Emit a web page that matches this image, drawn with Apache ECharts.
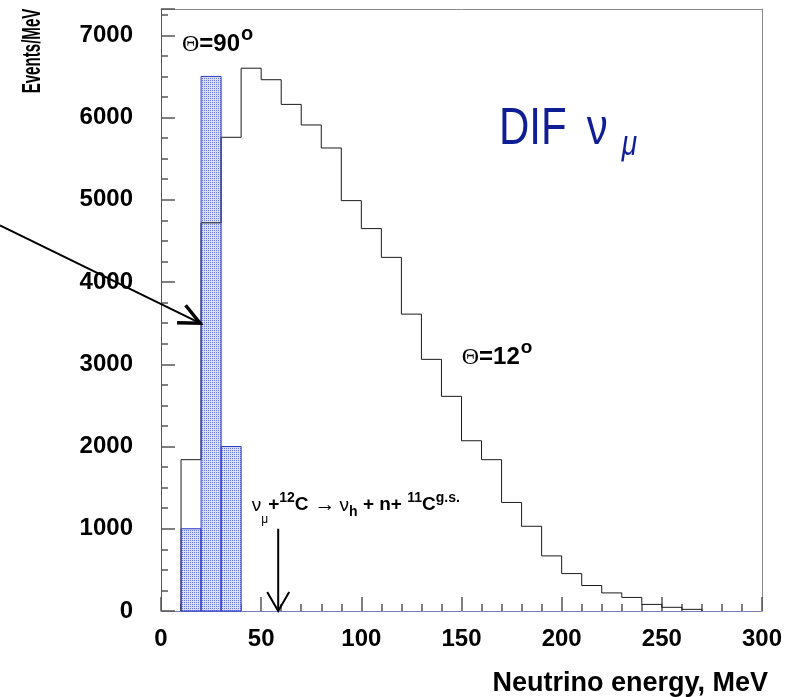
<!DOCTYPE html>
<html><head><meta charset="utf-8">
<script src="https://cdn.jsdelivr.net/npm/echarts@6/dist/echarts.min.js"></script>
<style>html,body{margin:0;padding:0;background:#fff}#c{width:789px;height:697px}</style>
</head><body><div id="c"></div>
<script>
// ---------- data ----------
const binWidth = 10; // MeV
const theta12BinLow = [10,20,30,40,50,60,70,80,90,100,110,120,130,140,150,160,170,180,190,200,210,220,230,240,250,260];
const theta12Values = [1840,4720,5760,6600,6460,6160,5910,5630,4990,4650,4300,3610,3060,2610,2070,1840,1320,1030,670,455,310,220,165,80,45,20];
const theta90BinLow = [10,20,30];
const theta90Values = [1000,6500,2000];
const xRange = [0, 300];
const xTickStep = 50, xMinorPerMajor = 5;
const yRange = [0, 7320];
const yTickStep = 1000, yMinorPerMajor = 4;
const thresholdEnergy = 58.5;   // MeV, arrow of the reaction threshold
const thresholdArrowTop = 1000;

// ---------- styles ----------
const SANS = '"Liberation Sans", Arial, Helvetica, sans-serif';
const NAVY = '#101e96';
const TICK = {color: '#555', width: 1.5};

// fill pattern (dotted light blue)
const pc = document.createElement('canvas');
pc.width = 2; pc.height = 2;
const pctx = pc.getContext('2d');
pctx.fillStyle = '#dadef7'; pctx.fillRect(0,0,2,2);
pctx.fillStyle = '#6a78dc'; pctx.fillRect(0,0,1,1);
const bluePattern = {image: pc, repeat: 'repeat'};

// step-line data for the Θ=12° histogram
const stepData = [[theta12BinLow[0], 0]];
theta12BinLow.forEach((x, i) => stepData.push([x, theta12Values[i]]));
stepData.push([theta12BinLow[theta12BinLow.length - 1] + binWidth, 0]);

const barData = theta90BinLow.map((x, i) => [x, x + binWidth, theta90Values[i]]);

function rectItem(api, styleObj) {
  const p0 = api.coord([api.value(0), api.value(2)]);
  const p1 = api.coord([api.value(1), 0]);
  return {type: 'rect', shape: {x: p0[0], y: p0[1], width: p1[0] - p0[0], height: p1[1] - p0[1]}, style: styleObj};
}

const noLabel = {show: false};
const chart = echarts.init(document.getElementById('c'), null, {renderer: 'canvas'});
const option = {
  animation: false,
  backgroundColor: '#fff',
  grid: {left: 161, right: 27, top: 9, bottom: 86, show: false},
  xAxis: [{
    type: 'value', min: xRange[0], max: xRange[1], interval: xTickStep, position: 'bottom',
    axisLine: {show: true, onZero: false, lineStyle: {color: '#7a7fb0', width: 1}},
    axisTick: {show: true, inside: true, length: 14, lineStyle: TICK},
    minorTick: {show: true, splitNumber: xMinorPerMajor, length: 7, lineStyle: TICK},
    axisLabel: {margin: 16, fontSize: 24, fontWeight: 'bold', color: '#000', fontFamily: SANS},
    splitLine: {show: false}, minorSplitLine: {show: false}
  }, {
    type: 'value', min: xRange[0], max: xRange[1], position: 'top',
    axisLine: {show: true, onZero: false, lineStyle: {color: '#8a8a8a', width: 1}},
    axisTick: {show: false}, axisLabel: noLabel, splitLine: {show: false}
  }],
  yAxis: [{
    // minor ticks + labels
    type: 'value', min: yRange[0], max: yRange[1], interval: yTickStep / yMinorPerMajor, position: 'left',
    axisLine: {show: true, onZero: false, lineStyle: {color: '#555', width: 1}},
    axisTick: {show: true, inside: true, length: 7, lineStyle: TICK},
    axisLabel: {margin: 28, fontSize: 24, fontWeight: 'bold', color: '#000', fontFamily: SANS, showMaxLabel: false,
      formatter: v => (Math.abs(v % yTickStep) < 1e-9 ? String(v) : '')},
    splitLine: {show: false}
  }, {
    // major ticks
    type: 'value', min: yRange[0], max: yRange[1], interval: yTickStep, position: 'left',
    axisLine: {show: false, onZero: false},
    axisTick: {show: true, inside: true, length: 14, lineStyle: TICK},
    axisLabel: noLabel, splitLine: {show: false}
  }, {
    // right frame
    type: 'value', min: yRange[0], max: yRange[1], position: 'right',
    axisLine: {show: true, onZero: false, lineStyle: {color: '#8a8a8a', width: 1}},
    axisTick: {show: false}, axisLabel: noLabel, splitLine: {show: false}
  }],
  series: [
    {type: 'custom', z: 2, silent: true, data: barData, encode: {x: [0, 1], y: 2},
     renderItem: (p, api) => rectItem(api, {fill: bluePattern, stroke: null})},
    {type: 'line', z: 3, silent: true, step: 'end', data: stepData, showSymbol: false, symbol: 'none',
     lineStyle: {color: '#1a1a1a', width: 1}},
    {type: 'custom', z: 4, silent: true, data: barData, encode: {x: [0, 1], y: 2},
     renderItem: (p, api) => rectItem(api, {fill: null, stroke: '#2b3bc4', lineWidth: 1})}
  ]
};
chart.setOption(option);

// ---------- annotations (anchored in data coordinates) ----------
const px = (x, y) => chart.convertToPixel({xAxisIndex: 0, yAxisIndex: 0}, [x, y]);
const mctx = document.createElement('canvas').getContext('2d');
function txt(x, y, t, font, color, align) {
  return {type: 'text', x: x, y: y, z: 100, silent: true,
    style: {text: t, font: font, fill: color, align: align || 'left', verticalAlign: 'middle',
            textAlign: align || 'left', textVerticalAlign: 'middle'}};
}
function flow(x, y, pieces, color) {
  const out = [];
  let cx = x;
  pieces.forEach(p => {
    cx += p.gap || 0;
    out.push(txt(cx, y + (p.dy || 0), p.t, p.font, color));
    mctx.font = p.font;
    cx += mctx.measureText(p.t).width;
  });
  return out;
}
function arrowHead(tip, from, len, halfAngleDeg) {
  const ang = Math.atan2(from[1] - tip[1], from[0] - tip[0]);
  const h = halfAngleDeg * Math.PI / 180;
  return [[tip[0] + len * Math.cos(ang + h), tip[1] + len * Math.sin(ang + h)], tip,
          [tip[0] + len * Math.cos(ang - h), tip[1] + len * Math.sin(ang - h)]];
}

const graphics = [];
// Θ=90°
const a90 = px(10.45, 6886);
graphics.push(...flow(a90[0], a90[1], [
  {t: 'Θ', font: 'normal 24px "Liberation Serif", serif'},
  {t: '=90', font: 'bold 24px ' + SANS},
  {t: 'o', font: 'bold 20px ' + SANS, dy: -10, gap: 1}
], '#000'));
// Θ=12°
const a12 = px(150.1, 3082);
graphics.push(...flow(a12[0], a12[1], [
  {t: 'Θ', font: 'normal 24px "Liberation Serif", serif'},
  {t: '=12', font: 'bold 24px ' + SANS},
  {t: 'o', font: 'bold 19px ' + SANS, dy: -10, gap: 1}
], '#000'));
// DIF ν_μ
const aDif = px(168.7, 5855);
graphics.push({type: 'group', x: aDif[0], y: aDif[1], scaleY: 1.25, z: 100, silent: true, children: [
  txt(0, 0, 'DIF', 'normal 42px ' + SANS, NAVY),
  txt(87.7, 0, 'ν', 'normal 42px ' + SANS, NAVY),
  txt(122.7, 13, 'μ', 'italic 28px ' + SANS, NAVY)
]});
// reaction label
const aR = px(45.3, 1295);
const B19 = 'bold 19px ' + SANS, B14 = 'bold 14px ' + SANS, N19 = 'normal 19px ' + SANS;
graphics.push(...flow(aR[0], aR[1], [
  {t: 'ν', font: N19, dy: 1},
  {t: 'μ', font: 'normal 12px ' + SANS, dy: 15},
  {t: '+', font: B19},
  {t: '12', font: B14, dy: -6},
  {t: 'C', font: B19},
  {t: '→', font: 'normal 21px ' + SANS, gap: 6, dy: 1},
  {t: 'ν', font: N19, dy: 1, gap: 4},
  {t: 'h', font: B14, dy: 8},
  {t: ' + n+ ', font: B19},
  {t: '11', font: B14, dy: -6},
  {t: 'C', font: B19},
  {t: 'g.s.', font: B14, dy: -6}
], '#000'));
// vertical threshold arrow
const vTop = px(thresholdEnergy, thresholdArrowTop), vTip = px(thresholdEnergy, 0);
graphics.push({type: 'line', z: 100, silent: true, shape: {x1: vTop[0], y1: vTop[1], x2: vTip[0], y2: vTip[1]}, style: {stroke: '#000', lineWidth: 2}});
graphics.push({type: 'polyline', z: 100, silent: true, shape: {points: arrowHead(vTip, vTop, 22, 30)}, style: {stroke: '#000', lineWidth: 2, fill: null}});
// diagonal pointer arrow
const dFrom = px(-80.4, 4690), dTip = px(19.5, 3500);
graphics.push({type: 'line', z: 100, silent: true, shape: {x1: dFrom[0], y1: dFrom[1], x2: dTip[0], y2: dTip[1]}, style: {stroke: '#000', lineWidth: 2}});
graphics.push({type: 'polyline', z: 100, silent: true, shape: {points: arrowHead(dTip, dFrom, 23, 25)}, style: {stroke: '#000', lineWidth: 3.5, fill: null, lineJoin: 'miter'}});
// axis titles
const yTitle = txt(33, 51, 'Events/MeV', 'bold 26px ' + SANS, '#000', 'center');
yTitle.rotation = Math.PI / 2; yTitle.scaleX = 0.58;
graphics.push(yTitle);
graphics.push(txt(768, 684, 'Neutrino energy, MeV', 'bold 27px ' + SANS, '#000', 'right'));

chart.setOption({graphic: {elements: graphics}});
</script></body></html>
